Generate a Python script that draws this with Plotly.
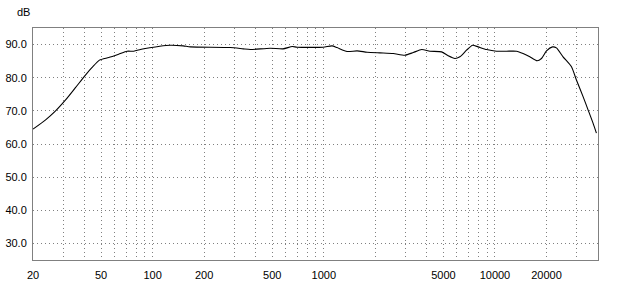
import plotly.graph_objects as go

freq = [20, 23.7, 27.1, 31.0, 35.4, 40.5, 44.3, 48.9, 55.4, 63.3, 70.9, 77.5, 84.8, 90.6,
        110, 127, 151, 166, 284, 338, 372, 486, 578, 654, 698, 991, 1117, 1194, 1368,
        1564, 1790, 2130, 2548, 2980, 3334, 3732, 4170, 4878, 5333, 5834, 6238, 6826,
        7396, 7974, 8932, 10217, 11688, 13366, 14600, 15986, 17620, 18700, 20000,
        21680, 22860, 25000, 28000, 29920, 32720, 35000, 37420, 39160]
level = [64.5, 67.3, 70.0, 73.3, 77.0, 80.8, 83.1, 85.3, 86.1, 87.1, 88.0, 88.0, 88.5, 88.8,
         89.5, 89.8, 89.6, 89.3, 89.1, 88.7, 88.5, 88.9, 88.7, 89.4, 89.2, 89.2, 89.6, 89.1, 87.9,
         88.1, 87.7, 87.5, 87.3, 86.8, 87.6, 88.5, 88.0, 87.8, 86.6, 85.8, 86.3, 88.3,
         89.8, 89.3, 88.5, 88.0, 88.0, 88.0, 87.3, 86.3, 85.1, 85.8, 88.1,
         89.3, 89.0, 86.3, 83.3, 79.3, 74.3, 70.3, 66.3, 63.3]

x_grid = [20, 30, 40, 50, 60, 70, 80, 90, 100, 200, 300, 400, 500, 600, 700, 800, 900,
          1000, 2000, 3000, 4000, 5000, 6000, 7000, 8000, 9000, 10000, 20000, 30000]
x_labels = ["20", "50", "100", "200", "500", "1000", "5000", "10000", "20000"]
y_ticks = [30, 40, 50, 60, 70, 80, 90]
y_labels = ["30.0", "40.0", "50.0", "60.0", "70.0", "80.0", "90.0"]

x_text = [str(v) if str(v) in x_labels else "" for v in x_grid]

fig = go.Figure()
fig.add_trace(go.Scatter(x=freq, y=level, mode="lines",
                         line=dict(color="black", width=1.1, shape="spline", smoothing=0.6),
                         showlegend=False, hoverinfo="skip"))

font = dict(family="Liberation Sans, Arial, sans-serif", size=11, color="black")
fig.update_layout(
    width=626, height=284,
    margin=dict(l=33, r=28, t=28, b=24),
    paper_bgcolor="white", plot_bgcolor="white",
    font=font,
    xaxis=dict(type="log", range=[1.30103, 4.60206], tickmode="array",
               tickvals=x_grid, ticktext=x_text, showgrid=True, automargin=False,
               gridcolor="#808080", griddash="1px,3px", gridwidth=1,
               showline=True, linecolor="#808080", linewidth=1, mirror=True,
               ticks="outside", ticklen=5, tickcolor="rgba(0,0,0,0)",
               zeroline=False, tickfont=font),
    yaxis=dict(range=[25, 95], tickmode="array", tickvals=y_ticks, ticktext=y_labels,
               showgrid=True, gridcolor="#808080", griddash="1px,3px", gridwidth=1,
               automargin=False,
               showline=True, linecolor="#808080", linewidth=1, mirror=True,
               ticks="outside", ticklen=3, tickcolor="rgba(0,0,0,0)",
               zeroline=False, tickfont=font),
    annotations=[dict(text="dB", xref="paper", yref="paper",
                      x=(23 - 33) / (626 - 33 - 28), y=1 + (28 - 12) / (284 - 28 - 24),
                      xanchor="center", yanchor="middle", showarrow=False, font=font)],
)

fig.write_html("out.html")
